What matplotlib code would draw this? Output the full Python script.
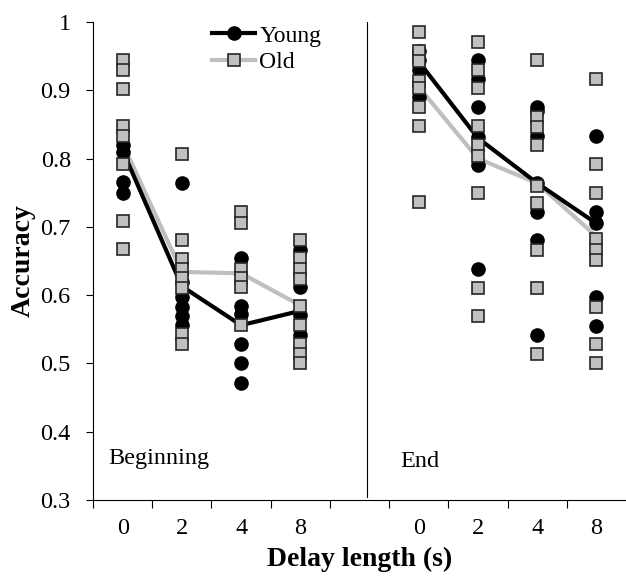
import matplotlib
matplotlib.use('Agg')
import matplotlib.pyplot as plt
from matplotlib.lines import Line2D

plt.rcParams['font.family'] = 'Liberation Serif'

delays = ['0', '2', '4', '8']

# individual accuracies
young_beg = [[0.82, 0.81, 0.766, 0.75],
             [0.764, 0.62, 0.598, 0.583, 0.569, 0.556],
             [0.654, 0.584, 0.573, 0.528, 0.50, 0.472],
             [0.666, 0.612, 0.571, 0.542]]
old_beg = [[0.945, 0.929, 0.902, 0.848, 0.833, 0.792, 0.708, 0.667],
           [0.806, 0.681, 0.653, 0.638, 0.625, 0.610, 0.543, 0.529],
           [0.722, 0.706, 0.639, 0.625, 0.612, 0.556],
           [0.681, 0.654, 0.638, 0.623, 0.584, 0.556, 0.528, 0.514, 0.500]]
young_end = [[0.958, 0.945, 0.93, 0.89],
             [0.944, 0.916, 0.875, 0.832, 0.791, 0.639],
             [0.876, 0.870, 0.833, 0.764, 0.722, 0.681, 0.542],
             [0.833, 0.722, 0.706, 0.598, 0.555]]
old_end = [[0.986, 0.958, 0.943, 0.914, 0.903, 0.875, 0.848, 0.736],
           [0.971, 0.930, 0.903, 0.848, 0.820, 0.804, 0.750, 0.611, 0.570],
           [0.944, 0.861, 0.846, 0.820, 0.760, 0.735, 0.666, 0.611, 0.514],
           [0.917, 0.792, 0.750, 0.682, 0.666, 0.652, 0.583, 0.528, 0.500]]

# group means (lines)
young_mean_beg = [0.812, 0.613, 0.556, 0.577]
old_mean_beg = [0.822, 0.634, 0.632, 0.585]
young_mean_end = [0.942, 0.830, 0.764, 0.705]
old_mean_end = [0.905, 0.800, 0.764, 0.686]

xticklabels = delays + [''] + delays

fig = plt.figure(figsize=(6.26, 5.76), dpi=100)
ax = fig.add_axes([0.1486, 0.1319, 0.8514, 0.8299])

gray = '#bfbfbf'
sq_fill = '#c0c0c0'

for offset, ym, om, yp, op in [(0, young_mean_beg, old_mean_beg, young_beg, old_beg),
                               (5, young_mean_end, old_mean_end, young_end, old_end)]:
    xs = [offset + i for i in range(4)]
    ax.plot(xs, om, color=gray, lw=3, zorder=2, solid_capstyle='butt')
    ax.plot(xs, ym, color='black', lw=3, zorder=2, solid_capstyle='butt')
    for i in range(4):
        ax.plot([xs[i]] * len(yp[i]), yp[i], 'o', color='black', ms=9.5,
                ls='none', zorder=3)
        ax.plot([xs[i]] * len(op[i]), op[i], 's', mfc=sq_fill, mec='#262626',
                mew=1.2, ms=8.8, ls='none', zorder=4)

# separator between the two blocks
ax.plot([4.12, 4.12], [0.305, 1.0], color='black', lw=0.8, zorder=1)

ax.text(-0.24, 0.3524, 'Beginning', fontsize=17.5, va='baseline', ha='left')
ax.text(4.69, 0.348, 'End', fontsize=17.5, va='baseline', ha='left')

ax.set_xlim(-0.5, 8.5)
ax.set_ylim(0.3, 1.0)
ax.set_yticks([0.3, 0.4, 0.5, 0.6, 0.7, 0.8, 0.9, 1.0])
ax.set_yticklabels(['0.3', '0.4', '0.5', '0.6', '0.7', '0.8', '0.9', '1'])
ax.set_xticks([i - 0.5 for i in range(9)])
ax.set_xticklabels([])
ax.set_xticks(range(9), minor=True)
ax.set_xticklabels(xticklabels, minor=True)
ax.tick_params(axis='x', which='major', direction='out', length=6, width=0.8)
ax.tick_params(axis='x', which='minor', length=0, pad=13, labelsize=17.5)
ax.tick_params(axis='y', direction='out', length=5, width=0.8, labelsize=17.5, pad=11)

ax.spines['top'].set_visible(False)
ax.spines['right'].set_visible(False)

ax.set_ylabel('Accuracy', fontsize=20, fontweight='bold')
ax.yaxis.set_label_coords(-0.108, 0.5)
ax.set_xlabel('Delay length (s)', fontsize=20, fontweight='bold')
ax.xaxis.set_label_coords(0.5, -0.098)

handles = [Line2D([], [], color='black', lw=3, marker='o', ms=9.5),
           Line2D([], [], color=gray, lw=3, marker='s', mfc=sq_fill,
                  mec='#262626', mew=1.2, ms=8.8)]
ax.legend(handles, ['Young', 'Old'], loc='upper left', bbox_to_anchor=(0.206, 1.013),
          frameon=False, fontsize=17, handlelength=1.8, handletextpad=0.2,
          labelspacing=0.2, borderaxespad=0)

fig.savefig('out.png', dpi=100)
